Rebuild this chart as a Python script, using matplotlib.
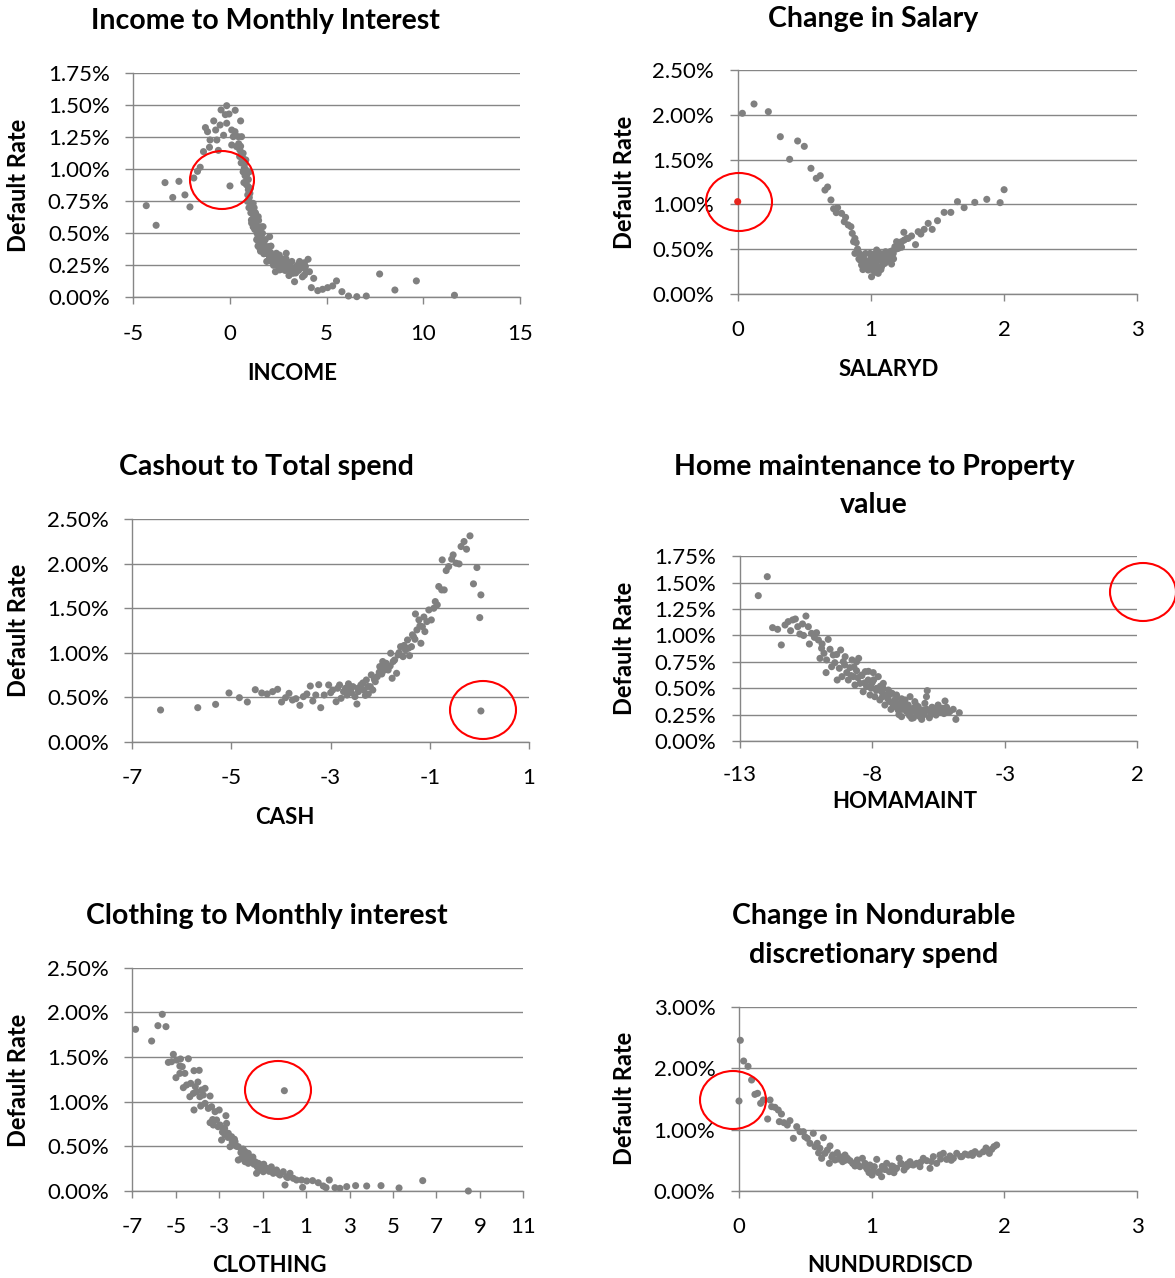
import matplotlib
matplotlib.use("Agg")
import numpy as np
import matplotlib.pyplot as plt
from matplotlib.patches import Ellipse
from matplotlib.ticker import FuncFormatter, FixedLocator

plt.rcParams['font.family'] = ['Lato', 'DejaVu Sans']

W, H = 1175, 1278
DPI = 100

# ---------------- data ----------------
income_x = [-4.33, -3.82, -3.36, -2.96, -2.64, -2.33, -2.07, -1.87, -1.68, -1.54, -1.37, -1.06,
            -1.27, -1.16, -0.84, -0.74, -1.03, -0.68, -0.60, -0.46, -0.33, -0.17, -0.24, -0.05,
            0.27, 0.00, -0.51, -0.17, 0.55, 0.09, 0.26, 0.17, 0.43, 0.60, 0.09, 0.34, 0.51, 0.68,
            0.82, 0.74, 0.86, 0.72, 0.94, 1.03, 1.20, 1.28, 1.11, 1.46, 1.37, 1.54, 1.71, 1.51,
            1.80, 1.97, 2.05, 1.88, 2.23, 2.40, 2.31, 2.57, 2.74, 2.91, 3.08, 3.25, 3.34, 3.60,
            3.85, 4.04, 4.11, 4.33, 4.21, 4.54, 4.79, 5.05, 5.31, 5.51, 5.79, 6.13, 6.56, 7.05,
            7.74, 8.53, 9.64, 11.61,
            0.45, 0.55, 0.62, 0.70, 0.75, 0.80, 0.78, 0.88, 0.85, 0.95, 0.92, 1.00, 1.05, 1.10,
            1.15, 1.08, 1.22, 1.18, 1.25, 1.30, 1.35, 1.28, 1.42, 1.40, 1.50, 1.45, 1.55, 1.60,
            1.52, 1.65, 1.62, 1.72, 1.70, 1.78, 1.85, 1.75, 1.92, 1.98, 2.05, 2.10, 2.00, 2.15,
            2.20, 2.28, 2.35, 2.45, 2.50, 2.60, 2.65, 2.78, 2.85, 2.95, 3.00, 3.12, 3.18, 3.30,
            3.40, 3.48, 3.55, 3.70, 3.75, 3.90, 3.95, 2.35, 2.70, 3.05, 1.90, 1.58, 1.38, 1.12,
            0.98, 0.90, 0.68, 0.58, 0.50,
            1.15, 1.25, 1.32, 1.20, 1.48, 1.60, 1.68, 1.45, 1.55, 1.82, 2.12, 2.25, 2.55, 2.90,
            3.20, 3.60, 3.85, 1.05, 0.95, 1.00]
income_rate = [0.716, 0.5625, 0.896, 0.78, 0.906, 0.80, 0.706, 0.932, 0.984, 1.016, 1.138, 1.172,
               1.326, 1.294, 1.378, 1.307, 1.229, 1.229, 1.148, 1.464, 1.266, 1.497, 1.427, 1.432,
               1.461, 0.870, 1.346, 1.36, 1.378, 1.307, 1.294, 1.255, 1.255, 1.255, 1.19, 1.177,
               1.151, 1.125, 1.073, 1.008, 0.956, 0.896, 0.865, 0.8125, 0.734, 0.656, 0.604, 0.63,
               0.552, 0.50, 0.552, 0.422, 0.448, 0.396, 0.474, 0.344, 0.318, 0.344, 0.266, 0.214,
               0.292, 0.344, 0.24, 0.1875, 0.122, 0.266, 0.174, 0.297, 0.20, 0.148, 0.0755, 0.052,
               0.0625, 0.0755, 0.089, 0.128, 0.044, 0.010, 0.005, 0.010, 0.182, 0.057, 0.128, 0.016,
               1.20, 1.18, 1.12, 1.08, 1.04, 1.00, 0.95, 0.92, 0.88, 0.84, 0.80, 0.78, 0.74, 0.70,
               0.68, 0.66, 0.64, 0.60, 0.58, 0.62, 0.56, 0.53, 0.54, 0.50, 0.52, 0.47, 0.46, 0.49,
               0.43, 0.44, 0.40, 0.42, 0.38, 0.40, 0.36, 0.34, 0.34, 0.37, 0.31, 0.35, 0.29, 0.28,
               0.32, 0.30, 0.26, 0.29, 0.24, 0.27, 0.22, 0.25, 0.21, 0.26, 0.22, 0.27, 0.20, 0.23,
               0.19, 0.25, 0.21, 0.23, 0.16, 0.24, 0.20, 0.20, 0.30, 0.17, 0.28, 0.36, 0.45, 0.58,
               0.70, 0.75, 0.98, 1.05, 1.10,
               0.72, 0.70, 0.66, 0.55, 0.60, 0.55, 0.50, 0.40, 0.38, 0.45, 0.40, 0.25, 0.33, 0.30,
               0.28, 0.28, 0.27, 0.85, 0.92, 0.98]

salary_x = [0.035, 0.1225, 0.23, 0.32, 0.45, 0.50, 0.39, 0.55, 0.59, 0.62, 0.655, 0.675, 0.70,
            0.72, 0.75, 0.74, 0.78, 0.80, 0.81, 0.83, 0.85, 0.86, 0.88, 0.87, 0.89, 0.88, 0.905,
            0.918, 0.93, 0.943, 0.955, 0.968, 0.98, 0.993, 1.005, 1.018, 1.03, 1.043, 1.055, 1.068,
            1.08, 1.093, 1.105, 1.118, 1.13, 1.143, 1.155, 1.168, 1.18, 1.193, 1.205, 1.218, 1.23,
            0.92, 0.95, 0.97, 0.99, 1.00, 1.01, 1.02, 1.04, 1.05, 1.06, 1.07, 1.09, 1.10, 1.12,
            1.14, 1.16, 1.17, 1.19, 1.21, 1.23, 0.94, 0.96, 1.03, 0.985, 1.015, 1.045, 1.075, 1.11,
            1.135, 1.25, 1.27, 0.90, 0.91,
            1.2475, 1.28, 1.305, 1.335, 1.355, 1.375, 1.40, 1.43, 1.46, 1.50, 1.55, 1.60, 1.65,
            1.70, 1.78, 1.87, 1.97, 2.00]
salary_rate = [2.019, 2.123, 2.037, 1.757, 1.709, 1.649, 1.504, 1.403, 1.291, 1.321, 1.160, 1.194,
               1.049, 0.951, 0.963, 0.907, 0.899, 0.806, 0.854, 0.769, 0.75, 0.675, 0.619, 0.582,
               0.571, 0.451, 0.47,
               0.377, 0.321, 0.414, 0.302, 0.358, 0.265, 0.451, 0.19, 0.340, 0.284, 0.489, 0.228,
               0.377, 0.302, 0.396, 0.340, 0.433, 0.377, 0.470, 0.332, 0.451, 0.526, 0.582, 0.507,
               0.545, 0.582,
               0.44, 0.38, 0.30, 0.33, 0.40, 0.27, 0.44, 0.35, 0.40, 0.30, 0.45, 0.33, 0.42, 0.37,
               0.41, 0.48, 0.39, 0.50, 0.56, 0.52, 0.27, 0.45, 0.24, 0.36, 0.39, 0.43, 0.27, 0.47,
               0.43, 0.60, 0.62, 0.50, 0.39,
               0.687, 0.619, 0.646, 0.549, 0.694, 0.668, 0.72, 0.787, 0.72, 0.817, 0.91, 0.91, 1.03,
               0.963, 1.022, 1.056, 1.019, 1.164]
salary_flag_x = [0.0]
salary_flag_rate = [1.03]

cash_x = [-6.43, -5.68, -5.32, -5.05, -4.84, -4.68, -4.52, -4.39, -4.28, -4.17, -4.07, -3.99,
          -3.91, -3.84, -3.77, -3.70, -3.62, -3.55, -3.48, -3.41, -3.36, -3.30, -3.24, -3.20,
          -3.13, -3.04, -2.96, -2.89, -2.82, -2.79, -2.74, -2.67, -2.61, -2.55, -2.51, -2.47,
          -2.44, -2.39, -2.33, -2.28, -2.24, -2.20, -2.15, -2.10, -2.06, -2.01, -1.97, -1.91,
          -1.84, -1.79, -1.76, -1.71, -1.67, -1.64, -1.59, -1.54, -1.49, -1.45, -1.41, -1.37,
          -1.33, -1.29, -1.26, -1.22, -1.18, -1.15, -1.10, -1.06, -1.02, -0.97, -0.92, -0.89,
          -0.85, -0.82, -0.76, -0.71, -0.75, -0.67, -0.62, -0.56, -0.53, -0.47, -0.41, -0.37,
          -0.31, -0.26, -0.19, -0.12, -0.05, 0.03, 0.007, 0.03,
          -2.70, -2.58, -2.45, -2.35, -2.25, -2.12, -2.02, -1.93, -1.88, -1.80, -1.74, -1.62,
          -1.52, -1.43, -1.35, -1.30, -1.20, -1.12, -3.00, -2.86, -2.64, -2.30, -2.18, -1.95]
cash_rate = [0.356, 0.382, 0.419, 0.547, 0.494, 0.446, 0.584, 0.547, 0.536, 0.562, 0.588, 0.446,
             0.494, 0.543, 0.468, 0.483, 0.408, 0.506, 0.536, 0.625, 0.457, 0.524, 0.640, 0.382,
             0.524, 0.637, 0.580, 0.449, 0.637, 0.487, 0.562, 0.524, 0.580, 0.618, 0.506, 0.423,
             0.562, 0.637, 0.580, 0.693, 0.536, 0.618, 0.580, 0.674, 0.730, 0.843, 0.760, 0.861,
             0.805, 0.993, 0.712, 0.918, 0.768, 0.974, 1.067, 0.955, 1.030, 1.142, 0.966, 1.067,
             1.180, 1.434, 1.255, 1.367, 1.105, 1.292, 1.236, 1.348, 1.479, 1.367, 1.498, 1.573,
             1.536, 1.742, 1.704, 1.704, 2.041, 1.921, 1.966, 2.049, 2.097, 2.004, 1.996, 2.191,
             2.247, 2.161, 2.311, 1.772, 1.955, 1.648, 1.393, 0.345,
             0.60, 0.55, 0.60, 0.66, 0.62, 0.70, 0.78, 0.80, 0.88, 0.85, 0.90, 1.00,
             1.08, 1.05, 1.20, 1.15, 1.30, 1.40, 0.55, 0.60, 0.65, 0.52, 0.75, 0.90]

home_x = [-12.31, -11.97, -11.77, -11.58, -11.44, -11.30, -11.18, -11.09, -11.01, -10.91, -10.82,
          -10.74, -10.64, -10.51, -10.42, -10.38, -10.30, -10.19, -10.11, -10.04, -9.98, -9.92,
          -9.83, -9.75, -9.73, -9.67, -9.60, -9.54, -9.48, -9.42, -9.33, -9.25, -9.20, -9.15,
          -9.10, -9.03, -8.97, -8.91, -8.85, -8.77, -8.72, -8.66, -8.60, -8.52, -8.47, -8.41,
          -8.35, -8.27, -8.22, -8.16, -8.09, -8.03, -7.97, -7.91, -7.84, -7.78, -7.72, -7.65,
          -7.59, -7.53, -7.47, -7.40, -7.34, -7.26, -7.21, -7.15, -7.09, -7.03, -6.96, -6.90,
          -6.84, -6.77, -6.71, -6.65, -6.58, -6.52, -6.46, -6.40, -6.33, -6.27, -6.21, -6.14,
          -6.08, -6.02, -5.96, -5.93, -5.86, -5.77, -5.70, -5.60, -5.52, -5.43, -5.35, -5.26,
          -5.18, -5.08, -4.95, -4.85, -4.72,
          -8.80, -8.55, -8.30, -8.05, -7.85, -7.62, -7.42, -7.25, -7.05, -6.88, -6.70, -6.55,
          -6.40, -6.25, -6.10, -5.95, -5.80, -5.65, -5.50, -5.30, -7.95, -7.70, -7.35, -7.12,
          -6.80, -6.60, -6.35, -6.05, -5.75, -5.45, -9.05, -8.70, -8.40, -8.15,
          -7.30, -7.00, -6.60, -6.20, -5.85, -5.55, -5.20, -6.90, -6.45, -7.60, -8.00, -8.60,
          -9.35, -9.90, -10.60]
home_rate = [1.377, 1.557, 1.074, 1.058, 0.910, 1.099, 1.131, 1.045, 1.147, 1.156, 1.083, 1.014,
             1.109, 1.184, 1.083, 0.919, 1.020, 0.982, 1.026, 0.957, 0.783, 0.878, 0.831, 0.648,
             0.768, 0.963, 0.869, 0.704, 0.815, 0.742, 0.578, 0.689, 0.862, 0.610, 0.752, 0.799,
             0.648, 0.578, 0.695, 0.768, 0.610, 0.531, 0.666, 0.783, 0.546, 0.625, 0.467, 0.657,
             0.515, 0.578, 0.436, 0.546, 0.648, 0.420, 0.499, 0.610, 0.389, 0.467, 0.546, 0.341,
             0.436, 0.483, 0.373, 0.452, 0.325, 0.389, 0.436, 0.294, 0.357, 0.231, 0.325, 0.389,
             0.278, 0.341, 0.420, 0.215, 0.310, 0.373, 0.262, 0.325, 0.231, 0.205, 0.294, 0.357,
             0.420, 0.477, 0.287, 0.262, 0.310, 0.246, 0.341, 0.278, 0.310, 0.379, 0.278, 0.278,
             0.300, 0.205, 0.268,
             0.62, 0.60, 0.55, 0.50, 0.48, 0.42, 0.40, 0.36, 0.34, 0.30, 0.30, 0.27,
             0.29, 0.26, 0.27, 0.30, 0.25, 0.29, 0.27, 0.26, 0.58, 0.52, 0.44, 0.40,
             0.35, 0.28, 0.34, 0.25, 0.32, 0.30, 0.72, 0.70, 0.62, 0.66,
             0.30, 0.25, 0.24, 0.28, 0.22, 0.29, 0.32, 0.40, 0.22, 0.50, 0.56, 0.75,
             0.82, 0.92, 1.00]

clothing_x = [-6.85, -6.11, -5.82, -5.62, -5.45, -5.11, -5.34, -5.19, -4.96, -4.78, -4.42, -4.81,
              -4.70, -4.99, -4.81, -4.58, -4.16, -3.92, -4.65, -4.50, -4.31, -4.10, -3.98, -4.35,
              -4.19, -4.04, -3.81, -3.65, -3.89, -3.73, -3.42, -4.16, -3.85, -3.65, -3.50, -3.35,
              -3.19, -3.00, -2.69, -3.42, -3.27, -3.12, -2.96, -2.81, -2.66, -2.89, -2.73, -2.58,
              -2.43, -2.27, -2.50, -2.35, -2.12, -1.97, -1.81, -1.66, -2.12, -1.97, -1.81, -1.66,
              -1.51, -1.35, -1.20, -1.05, -1.28, -1.12, -0.97, -0.82, -0.66, -0.51, -0.36, -0.20,
              -0.05, 0.03, 0.10, 0.26, 0.41, 0.56, 0.79, 0.84, 1.03, 1.30, 1.56, 1.79, 1.92, 2.07,
              2.33, 2.56, 2.87, 3.28, 3.79, 4.45, 5.28, 6.37, 8.47, 0.0,
              -3.30, -3.05, -2.85, -2.60, -2.40, -2.20, -2.00, -1.85, -1.70, -1.55, -1.40, -1.25,
              -1.10, -0.90, -0.70, -0.45, -0.25, 0.15, -2.75, -2.30, -1.90, -1.45, -0.95, -0.60]
clothing_rate = [1.810, 1.679, 1.851, 1.978, 1.840, 1.530, 1.440, 1.448, 1.466, 1.478, 1.481,
                 1.399, 1.392, 1.269, 1.317, 1.317, 1.347, 1.351, 1.157, 1.187, 1.205, 1.168,
                 1.220, 1.056, 1.093, 1.112, 1.131, 1.149, 1.056, 1.075, 1.063, 0.907, 0.951,
                 0.981, 0.925, 0.944, 0.888, 0.907, 0.843, 0.765, 0.739, 0.795, 0.739, 0.701,
                 0.757, 0.571, 0.627, 0.646, 0.608, 0.552, 0.496, 0.515, 0.496, 0.459, 0.440,
                 0.422, 0.347, 0.366, 0.328, 0.310, 0.347, 0.328, 0.310, 0.291, 0.198, 0.235,
                 0.216, 0.254, 0.235, 0.198, 0.235, 0.179, 0.216, 0.067, 0.160, 0.198, 0.142,
                 0.123, 0.123, 0.041, 0.112, 0.116, 0.093, 0.056, 0.037, 0.123, 0.037, 0.030,
                 0.049, 0.060, 0.056, 0.060, 0.034, 0.116, 0.0, 1.123,
                 0.80, 0.72, 0.66, 0.60, 0.55, 0.50, 0.43, 0.40, 0.37, 0.33, 0.30, 0.27,
                 0.26, 0.24, 0.22, 0.21, 0.19, 0.15, 0.70, 0.58, 0.47, 0.38, 0.30, 0.27]

nondur_x = [0.01, 0.035, 0.068, 0.0, 0.095, 0.12, 0.14, 0.163, 0.183, 0.234, 0.216, 0.246, 0.271,
            0.296, 0.32, 0.304, 0.339, 0.364, 0.384, 0.41, 0.435, 0.46, 0.485, 0.497, 0.515,
            0.535, 0.56, 0.573, 0.59, 0.61, 0.636, 0.623, 0.648, 0.666, 0.686, 0.681, 0.706,
            0.724, 0.741, 0.761, 0.781, 0.799, 0.817, 0.837, 0.857, 0.874, 0.892, 0.912, 0.93,
            0.95, 0.967, 0.987, 1.003, 1.02, 1.038, 1.058, 1.075, 1.093, 1.113, 1.133, 1.151,
            1.168, 1.188, 1.208, 1.226, 1.244, 1.264, 1.289, 1.314, 1.339, 1.364, 1.389, 1.415,
            1.44, 1.465, 1.49, 1.515, 1.54, 1.565, 1.59, 1.616, 1.641, 1.671, 1.704, 1.729,
            1.754, 1.779, 1.812, 1.842, 1.862, 1.887, 1.905, 1.922, 1.942,
            0.60, 0.70, 0.80, 0.90, 0.96, 1.01, 1.05, 1.10, 1.16, 1.22, 1.30, 1.37, 1.45, 1.52,
            1.60, 1.68, 1.76, 0.75, 0.86, 0.98, 1.08, 1.18, 1.27]
nondur_rate = [2.453, 2.116, 2.029, 1.465, 1.807, 1.573, 1.590, 1.427, 1.481, 1.481, 1.172, 1.373,
               1.362, 1.318, 1.253, 1.129, 1.112, 1.074, 1.145, 0.857, 1.047, 0.966, 0.966, 0.884,
               0.857, 0.776, 0.939, 0.722, 0.776, 0.695, 0.868, 0.532, 0.613, 0.667, 0.733, 0.450,
               0.586, 0.505, 0.624, 0.559, 0.477, 0.586, 0.532, 0.494, 0.450, 0.407, 0.505, 0.396,
               0.532, 0.450, 0.353, 0.423, 0.260, 0.396, 0.515, 0.315, 0.233, 0.369, 0.450, 0.315,
               0.407, 0.298, 0.369, 0.532, 0.44, 0.342, 0.396, 0.477, 0.423, 0.450, 0.396, 0.532,
               0.494, 0.369, 0.559, 0.450, 0.586, 0.613, 0.515, 0.570, 0.532, 0.613, 0.559, 0.602,
               0.586, 0.613, 0.640, 0.602, 0.640, 0.700, 0.613, 0.678, 0.722, 0.749,
               0.62, 0.55, 0.50, 0.42, 0.38, 0.33, 0.30, 0.35, 0.40, 0.45, 0.43, 0.47, 0.48, 0.52,
               0.50, 0.56, 0.58, 0.52, 0.45, 0.30, 0.40, 0.36, 0.44]

# ---------------- styling ----------------
GRAY = '#808080'
GRID = '#868686'
TICK_FS = 16
TITLE_FS = 20.5
LABEL_FS = 16
YLABEL_FS = 17

fig = plt.figure(figsize=(W / DPI, H / DPI), dpi=DPI)


def add_axes_px(left, right, top, bottom):
    return fig.add_axes([left / W, 1 - bottom / H, (right - left) / W, (bottom - top) / H])


def fig_text(x, y, s, **kw):
    fig.text(x / W, 1 - y / H, s, **kw)


def style(ax, xlim, xstep, ylim, ystep, xpad=15):
    ax.set_xlim(*xlim)
    ax.set_ylim(*ylim)
    ax.xaxis.set_major_locator(FixedLocator(np.arange(xlim[0], xlim[1] + xstep / 2, xstep)))
    ax.yaxis.set_major_locator(FixedLocator(np.arange(ylim[0], ylim[1] + ystep / 2, ystep)))
    ax.yaxis.set_major_formatter(FuncFormatter(lambda v, p: f'{v:.2f}%'))
    ax.xaxis.set_major_formatter(FuncFormatter(lambda v, p: f'{v:g}'))
    for s in ('top', 'right'):
        ax.spines[s].set_visible(False)
    for s in ('left', 'bottom'):
        ax.spines[s].set_color(GRID)
        ax.spines[s].set_linewidth(1.0)
    ax.grid(axis='y', color=GRID, linewidth=1.0)
    ax.set_axisbelow(True)
    ax.tick_params(axis='y', length=6, width=1.0, color=GRID, pad=11, labelsize=TICK_FS)
    ax.tick_params(axis='x', length=5, width=1.0, color=GRID, pad=xpad, labelsize=TICK_FS)
    ax.patch.set_alpha(0)


def scatter(ax, x, y, color=GRAY):
    ax.scatter(x, y, s=26, color=color, edgecolors='none', zorder=3, clip_on=False)


def ellipse(cx, cy, w, h):
    e = Ellipse((cx / DPI, (H - cy) / DPI), w / DPI, h / DPI,
                transform=fig.dpi_scale_trans, fill=False, edgecolor='#ff0000',
                linewidth=1.5, zorder=10, clip_on=False)
    fig.add_artist(e)


def ylab(x, y):
    fig_text(x, y, 'Default Rate', ha='center', va='center', rotation=90,
             fontsize=YLABEL_FS, fontweight='bold')


# Panel 1
ax1 = add_axes_px(133.3, 520, 73.3, 297.3)
style(ax1, (-5, 15), 5, (0, 1.75), 0.25, xpad=14)
scatter(ax1, income_x, income_rate)
fig_text(265, 21, 'Income to Monthly Interest', ha='center', va='center', fontsize=TITLE_FS, fontweight='bold')
fig_text(292, 373, 'INCOME', ha='center', va='center', fontsize=LABEL_FS, fontweight='bold')
ylab(19, 185)
ellipse(222, 180, 64, 58)

# Panel 2
ax2 = add_axes_px(737.7, 1137.3, 70.3, 293.7)
style(ax2, (0, 3), 1, (0, 2.5), 0.5, xpad=14)
scatter(ax2, salary_x, salary_rate)
scatter(ax2, salary_flag_x, salary_flag_rate, color='#e8251d')
fig_text(873, 19, 'Change in Salary', ha='center', va='center', fontsize=TITLE_FS, fontweight='bold')
fig_text(889, 369, 'SALARYD', ha='center', va='center', fontsize=LABEL_FS, fontweight='bold')
ylab(625, 182)
ellipse(739, 202, 66, 58)

# Panel 3
ax3 = add_axes_px(132.3, 529, 519, 741.7)
style(ax3, (-7, 1), 2, (0, 2.5), 0.5, xpad=14)
scatter(ax3, cash_x, cash_rate)
fig_text(266, 467, 'Cashout to Total spend', ha='center', va='center', fontsize=TITLE_FS, fontweight='bold')
fig_text(285, 817, 'CASH', ha='center', va='center', fontsize=LABEL_FS, fontweight='bold')
ylab(19, 630)
ellipse(483, 710, 66, 58)

# Panel 4
ax4 = add_axes_px(740, 1137.3, 556.3, 741)
style(ax4, (-13, 2), 5, (0, 1.75), 0.25, xpad=12)
scatter(ax4, home_x, home_rate)
fig_text(874, 467, 'Home maintenance to Property', ha='center', va='center', fontsize=TITLE_FS, fontweight='bold')
fig_text(874, 505, 'value', ha='center', va='center', fontsize=TITLE_FS, fontweight='bold')
fig_text(905, 801, 'HOMAMAINT', ha='center', va='center', fontsize=LABEL_FS, fontweight='bold')
ylab(625, 648)
ellipse(1143, 592, 66, 58)

# Panel 5
ax5 = add_axes_px(132.3, 523.3, 967.7, 1191)
style(ax5, (-7, 11), 2, (0, 2.5), 0.5, xpad=14)
scatter(ax5, clothing_x, clothing_rate)
fig_text(267, 916, 'Clothing to Monthly interest', ha='center', va='center', fontsize=TITLE_FS, fontweight='bold')
fig_text(269, 1266, 'CLOTHING', ha='center', va='center', fontsize=LABEL_FS, fontweight='bold')
ylab(19, 1080)
ellipse(278, 1090, 66, 58)

# Panel 6
ax6 = add_axes_px(739, 1137, 1006.7, 1191)
style(ax6, (0, 3), 1, (0, 3.0), 1.0, xpad=14)
scatter(ax6, nondur_x, nondur_rate)
fig_text(874, 916, 'Change in Nondurable', ha='center', va='center', fontsize=TITLE_FS, fontweight='bold')
fig_text(874, 955, 'discretionary spend', ha='center', va='center', fontsize=TITLE_FS, fontweight='bold')
fig_text(890, 1266, 'NUNDURDISCD', ha='center', va='center', fontsize=LABEL_FS, fontweight='bold')
ylab(625, 1098)
ellipse(733, 1100, 66, 58)

fig.savefig('out.png', dpi=DPI, facecolor='white')
